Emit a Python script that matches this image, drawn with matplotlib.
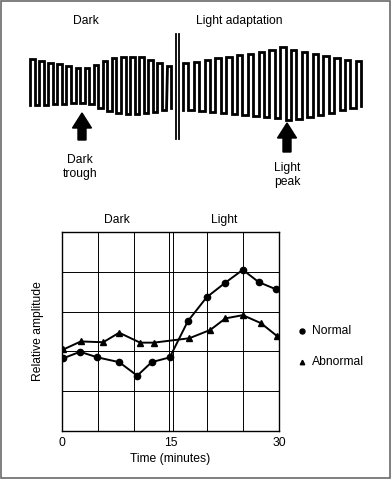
import matplotlib
matplotlib.use("Agg")
import matplotlib.pyplot as plt
from matplotlib.patches import Rectangle

plt.rcParams['font.family'] = ['Liberation Sans', 'DejaVu Sans']

# EOG trace (top panel), per-cycle top / bottom levels in panel units (y down)
dark_tops = [59, 61, 62.5, 64, 66, 67.5, 68, 65, 61, 58, 57, 56.5, 57, 60, 63, 66]
dark_bottoms = [105, 104.5, 104, 103.5, 103, 103, 104, 108, 111, 113, 114, 114, 113, 112, 110, 108]
light_tops = [63, 61.5, 60, 58, 56.5, 55, 53.5, 52, 50, 47, 49.5, 51.5, 53.5, 56, 58, 59.5, 60.5]
light_bottoms = [110, 110.5, 111.5, 112.5, 113.5, 114.5, 115.5, 116.5, 118, 120, 118.5, 117, 115, 112.5, 110, 108, 106]

# bottom chart
normal_t = [0.2, 2.5, 4.9, 7.9, 10.4, 12.4, 14.9, 17.4, 20.0, 22.6, 25.0, 27.2, 29.6]
normal_v = [1.83, 1.99, 1.85, 1.73, 1.39, 1.73, 1.85, 2.76, 3.36, 3.73, 4.05, 3.74, 3.56]
abnormal_t = [0.2, 2.6, 5.7, 7.9, 10.8, 12.7, 17.6, 20.5, 22.6, 25.0, 27.5, 29.7]
abnormal_v = [2.05, 2.25, 2.23, 2.47, 2.22, 2.22, 2.33, 2.54, 2.83, 2.91, 2.71, 2.39]
xtick_vals = [0, 15, 30]
grid_x = [5, 10, 14.8, 15.35, 20, 25]
grid_y = [1, 2, 3, 4]

FS = 8.7


def meander(x0, period, tops, bottoms):
    xs, ys = [], []
    n = len(tops)
    for i in range(n):
        xa = x0 + i * period
        xb = xa + period / 2
        if i == 0:
            xs.append(xa); ys.append(bottoms[0])
        xs += [xa, xb, xb]
        ys += [tops[i], tops[i], bottoms[i]]
        if i < n - 1:
            xs.append(xa + period); ys.append(bottoms[i])
    return xs, ys


fig = plt.figure(figsize=(3.91, 4.80), dpi=100)

# overlay axes in pixel units
ov = fig.add_axes([0, 0, 1, 1])
ov.set_xlim(0, 391)
ov.set_ylim(480, 0)
ov.axis('off')

ov.add_patch(Rectangle((0.7, 0.7), 389.3, 477, fill=False, edgecolor='#6a6a6a', lw=1.2))

xs, ys = meander(30, 9.1, dark_tops, dark_bottoms)
ov.plot(xs, ys, color='black', lw=2.0, solid_joinstyle='miter')
xs, ys = meander(183, 10.8, light_tops, light_bottoms)
ov.plot(xs, ys, color='black', lw=2.0, solid_joinstyle='miter')

# divider between dark and light
ov.plot([175.5, 175.5], [34, 139], color='black', lw=1.3)
ov.plot([178.6, 178.6], [34, 139], color='black', lw=1.3)

ov.text(86, 21, 'Dark', ha='center', va='center', fontsize=FS)
ov.text(239, 21, 'Light adaptation', ha='center', va='center', fontsize=FS)

ov.arrow(82, 140, 0, -27, width=8, head_width=19, head_length=15,
         length_includes_head=True, color='black')
ov.arrow(287, 152, 0, -29, width=8, head_width=19, head_length=15,
         length_includes_head=True, color='black')
ov.text(80, 167, 'Dark\ntrough', ha='center', va='center', fontsize=FS, linespacing=1.15)
ov.text(287, 175, 'Light\npeak', ha='center', va='center', fontsize=FS, linespacing=1.15)

# legend
ov.plot([302], [331], 'o', color='black', ms=3.6)
ov.text(312, 331, 'Normal', ha='left', va='center', fontsize=FS)
ov.plot([302], [362], '^', color='black', ms=3.2)
ov.text(312, 362, 'Abnormal', ha='left', va='center', fontsize=FS)

# chart
ax = fig.add_axes([62 / 391, 49 / 480, 217 / 391, 199 / 480])
ax.set_xlim(0, 30)
ax.set_ylim(0, 5)
for gx in grid_x:
    ax.axvline(gx, color='black', lw=0.7, zorder=1)
for gy in grid_y:
    ax.axhline(gy, color='black', lw=0.7, zorder=1)
for s in ax.spines.values():
    s.set_linewidth(1.0)

ax.plot(normal_t, normal_v, '-o', color='black', lw=1.4, ms=4.5, zorder=3)
ax.plot(abnormal_t, abnormal_v, '-^', color='black', lw=1.4, ms=4.2, zorder=3)

ax.set_xticks(xtick_vals)
ax.set_xticklabels([str(v) for v in xtick_vals], fontsize=FS)
ax.tick_params(axis='x', length=0, pad=4.5)
ax.set_yticks([])
ax.set_xlabel('Time (minutes)', fontsize=FS, labelpad=3)
ax.set_ylabel('Relative amplitude', fontsize=FS, labelpad=13)

ax.text(7.6, 5.3, 'Dark', ha='center', va='center', fontsize=FS, clip_on=False)
ax.text(22.4, 5.3, 'Light', ha='center', va='center', fontsize=FS, clip_on=False)

fig.savefig('out.png', dpi=100)
